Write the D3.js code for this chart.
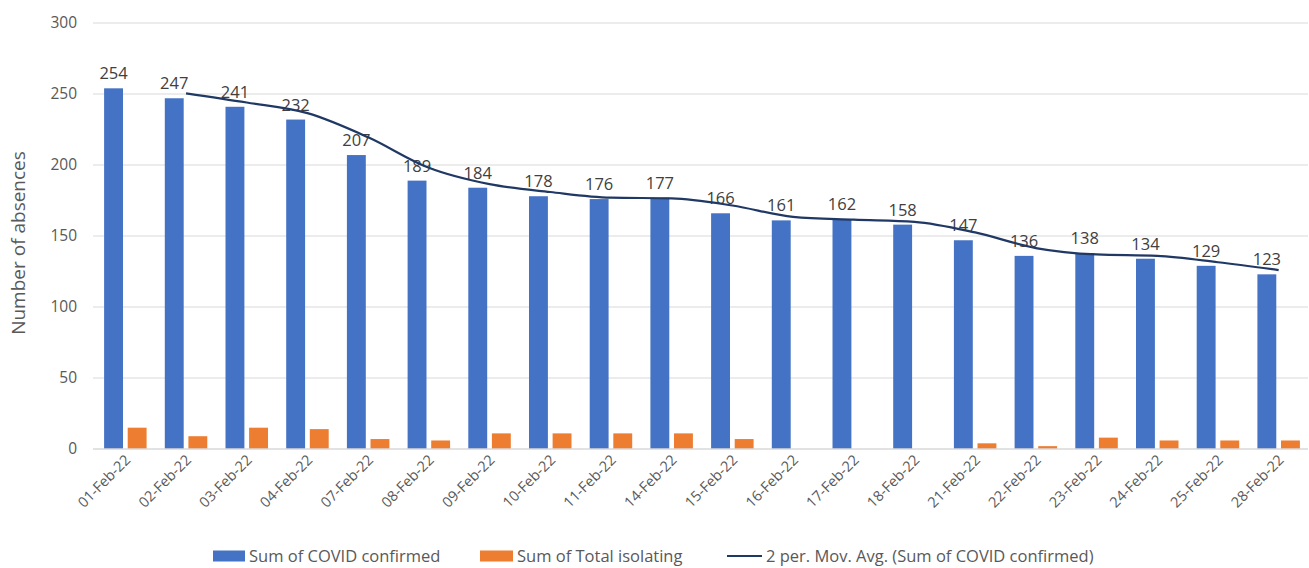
<!DOCTYPE html>
<html>
<head>
<meta charset="utf-8">
<script src="https://cdn.jsdelivr.net/npm/d3@7"></script>
<style>
  body { margin: 0; background: #fff; }
  text { font-family: "Open Sans", "Liberation Sans", sans-serif; }
</style>
</head>
<body>
<svg id="chart"></svg>
<script>
const dates = ['01-Feb-22', '02-Feb-22', '03-Feb-22', '04-Feb-22', '07-Feb-22', '08-Feb-22', '09-Feb-22',
    '10-Feb-22', '11-Feb-22', '14-Feb-22', '15-Feb-22', '16-Feb-22', '17-Feb-22', '18-Feb-22',
    '21-Feb-22', '22-Feb-22', '23-Feb-22', '24-Feb-22', '25-Feb-22', '28-Feb-22'];
const confirmed = [254, 247, 241, 232, 207, 189, 184, 178, 176, 177, 166, 161, 162, 158, 147, 136, 138, 134, 129, 123];
const isolating = [15, 9, 15, 14, 7, 6, 11, 11, 11, 11, 7, 0, 0, 0, 4, 2, 8, 6, 6, 6];
const yTicks = [0, 50, 100, 150, 200, 250, 300];
const seriesNames = ['Sum of COVID confirmed', 'Sum of Total isolating', '2 per. Mov. Avg. (Sum of COVID confirmed)'];

const width = 1309, height = 568;
const svg = d3.select('#chart').attr('width', width).attr('height', height);

const x = d3.scaleBand().domain(dates).range([95, 1309]).paddingInner(0.3).paddingOuter(0.15);
const xSub = d3.scaleBand().domain(['c', 'i']).range([0, x.bandwidth()]).paddingInner(0.2);
const y = d3.scaleLinear().domain([0, 300]).range([449, 23]);

// gridlines
svg.append('g')
    .selectAll('line')
    .data(yTicks.filter(d => d > 0))
    .join('line')
    .attr('x1', 93).attr('x2', 1308)
    .attr('y1', d => y(d)).attr('y2', d => y(d))
    .attr('stroke', '#d9d9d9').attr('stroke-width', 1);

// y tick labels
svg.append('g')
    .selectAll('text')
    .data(yTicks)
    .join('text')
    .attr('x', 77).attr('y', d => y(d) + 5)
    .attr('text-anchor', 'end')
    .attr('font-size', 15.5).attr('fill', '#595959')
    .text(d => d);

svg.append('text')
    .attr('transform', 'translate(25,243) rotate(-90)')
    .attr('text-anchor', 'middle')
    .attr('font-size', 19).attr('fill', '#595959')
    .text('Number of absences');

// bars
const groups = svg.append('g')
    .selectAll('g')
    .data(dates)
    .join('g')
    .attr('transform', d => `translate(${x(d)},0)`);

groups.append('rect')
    .attr('x', xSub('c')).attr('width', xSub.bandwidth())
    .attr('y', (d, i) => y(confirmed[i]))
    .attr('height', (d, i) => y(0) - y(confirmed[i]))
    .attr('fill', '#4472c4');

groups.append('rect')
    .attr('x', xSub('i')).attr('width', xSub.bandwidth())
    .attr('y', (d, i) => y(isolating[i]))
    .attr('height', (d, i) => y(0) - y(isolating[i]))
    .attr('fill', '#ed7d31');

// x axis line
svg.append('line')
    .attr('x1', 93).attr('x2', 1308)
    .attr('y1', y(0)).attr('y2', y(0))
    .attr('stroke', '#d9d9d9').attr('stroke-width', 1.5);

// moving average (2 period)
const movAvg = confirmed.map((v, i) => i === 0 ? null : (v + confirmed[i - 1]) / 2);
const line = d3.line()
    .defined(d => d != null)
    .x((d, i) => x(dates[i]) + x.bandwidth() / 2)
    .y(d => y(d))
    .curve(d3.curveMonotoneX);

svg.append('path')
    .datum(movAvg)
    .attr('d', line)
    .attr('fill', 'none')
    .attr('stroke', '#203864')
    .attr('stroke-width', 2.2);

// data labels
groups.append('text')
    .attr('x', xSub('c') + xSub.bandwidth() / 2)
    .attr('y', (d, i) => y(confirmed[i]) - 9)
    .attr('text-anchor', 'middle')
    .attr('font-size', 16.5).attr('fill', '#404040')
    .text((d, i) => confirmed[i]);

// x tick labels
groups.append('text')
    .attr('transform', `translate(${x.bandwidth() / 2 + 6},${y(0) + 12}) rotate(-45)`)
    .attr('text-anchor', 'end')
    .attr('font-size', 14.5).attr('fill', '#595959')
    .text(d => d);

// legend
const legend = svg.append('g').attr('transform', 'translate(0,556)');
const legendItems = [
    {name: seriesNames[0], x: 213, w: 32, type: 'rect', color: '#4472c4'},
    {name: seriesNames[1], x: 480, w: 33, type: 'rect', color: '#ed7d31'},
    {name: seriesNames[2], x: 727, w: 35, type: 'line', color: '#203864'}
];
legendItems.forEach(item => {
    if (item.type === 'rect') {
        legend.append('rect')
            .attr('x', item.x).attr('y', -5.5).attr('width', item.w).attr('height', 11)
            .attr('fill', item.color);
    } else {
        legend.append('line')
            .attr('x1', item.x).attr('x2', item.x + item.w)
            .attr('y1', 0).attr('y2', 0)
            .attr('stroke', item.color).attr('stroke-width', 2.2);
    }
    legend.append('text')
        .attr('x', item.x + item.w + 4).attr('y', 6)
        .attr('font-size', 16.5).attr('fill', '#595959')
        .text(item.name);
});
</script>
</body>
</html>
